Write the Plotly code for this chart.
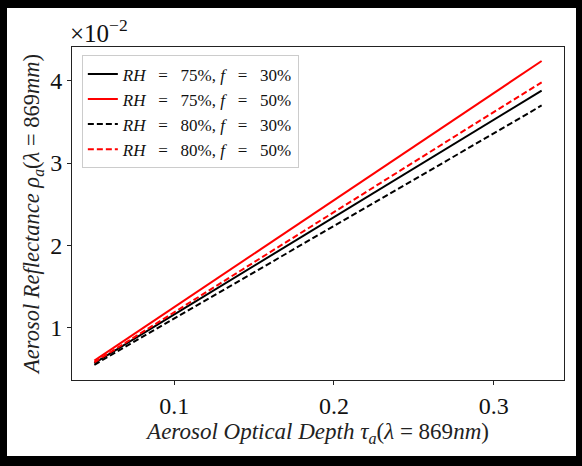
import plotly.graph_objects as go

# Aerosol optical depth at 869 nm
tau = [0.05, 0.10, 0.15, 0.20, 0.25, 0.30, 0.33]

# Aerosol reflectance at 869 nm, in units of 1e-2
rho_rh75_f30 = [0.57, 1.16, 1.75, 2.34, 2.93, 3.52, 3.88]
rho_rh75_f50 = [0.60, 1.25, 1.90, 2.55, 3.20, 3.85, 4.24]
rho_rh80_f30 = [0.55, 1.11, 1.68, 2.24, 2.80, 3.36, 3.70]
rho_rh80_f50 = [0.58, 1.19, 1.79, 2.40, 3.01, 3.62, 3.98]

NB = "\u00a0"
EQ = NB * 3 + "=" + NB * 3

def legend_label(rh, f):
    return f"<i>RH</i>{EQ}{rh}%,{NB}<i>f</i>{EQ}{f}%"

series_names = [
    legend_label(75, 30),
    legend_label(75, 50),
    legend_label(80, 30),
    legend_label(80, 50),
]
series_values = [rho_rh75_f30, rho_rh75_f50, rho_rh80_f30, rho_rh80_f50]
series_colors = ["#000000", "#ff0000", "#000000", "#ff0000"]
series_dash = ["solid", "solid", "6px,3px", "6px,3px"]

x_ticks = [0.1, 0.2, 0.3]
y_ticks = [1, 2, 3, 4]

SERIF = "Liberation Serif, Times New Roman, serif"

fig = go.Figure()
for name, vals, col, dash in zip(series_names, series_values, series_colors, series_dash):
    fig.add_trace(go.Scatter(
        x=tau, y=vals, mode="lines", name=name,
        line=dict(color=col, width=2, dash=dash),
    ))

W, H = 582, 466
ML, MR, MT, MB = 72, 18, 47, 86
PW, PH = W - ML - MR, H - MT - MB

def px_x(px):
    return (px - ML) / PW

def px_y(py):
    return (H - MB - py) / PH

# white card inside the black frame
fig.add_shape(
    type="rect", xref="paper", yref="paper", layer="below",
    x0=px_x(7), x1=px_x(576), y0=px_y(456), y1=px_y(8),
    fillcolor="white", line=dict(width=0),
)

fig.add_annotation(
    text="×10<sup>−2</sup>", xref="paper", yref="paper",
    x=0, y=1, xanchor="left", yanchor="bottom", xshift=-4, yshift=-2,
    showarrow=False, font=dict(family=SERIF, size=25, color="#111"),
)

axis_common = dict(
    showgrid=False, zeroline=False, showline=True, linecolor="#222",
    linewidth=1, mirror=True, ticks="outside", ticklen=4, tickwidth=1,
    tickcolor="#222", tickfont=dict(family=SERIF, size=24, color="#111"),
)

fig.update_layout(
    width=W, height=H,
    margin=dict(l=ML, r=MR, t=MT, b=MB),
    paper_bgcolor="black", plot_bgcolor="white",
    xaxis=dict(
        range=[0.036, 0.344], tickvals=x_ticks, ticktext=[str(v) for v in x_ticks],
        title=dict(
            text="<i>Aerosol Optical Depth τ</i><sub><i>a</i></sub>(<i>λ</i> = 869<i>nm</i>)",
            font=dict(family=SERIF, size=23, color="#222"), standoff=2,
        ),
        **axis_common,
    ),
    yaxis=dict(
        range=[0.365, 4.41], tickvals=y_ticks, ticktext=[str(v) for v in y_ticks],
        title=dict(
            text="<i>Aerosol Reflectance ρ</i><sub><i>a</i></sub>(<i>λ</i> = 869<i>mm</i>)",
            font=dict(family=SERIF, size=22.5, color="#222"), standoff=4,
        ),
        **axis_common,
    ),
    legend=dict(
        x=0.02, y=0.975, xanchor="left", yanchor="top",
        bgcolor="rgba(255,255,255,0.85)", bordercolor="#cccccc", borderwidth=1,
        font=dict(family=SERIF, size=17, color="#111"),
        tracegroupgap=0, itemwidth=30,
    ),
    showlegend=True,
)

fig.write_html("out.html")
